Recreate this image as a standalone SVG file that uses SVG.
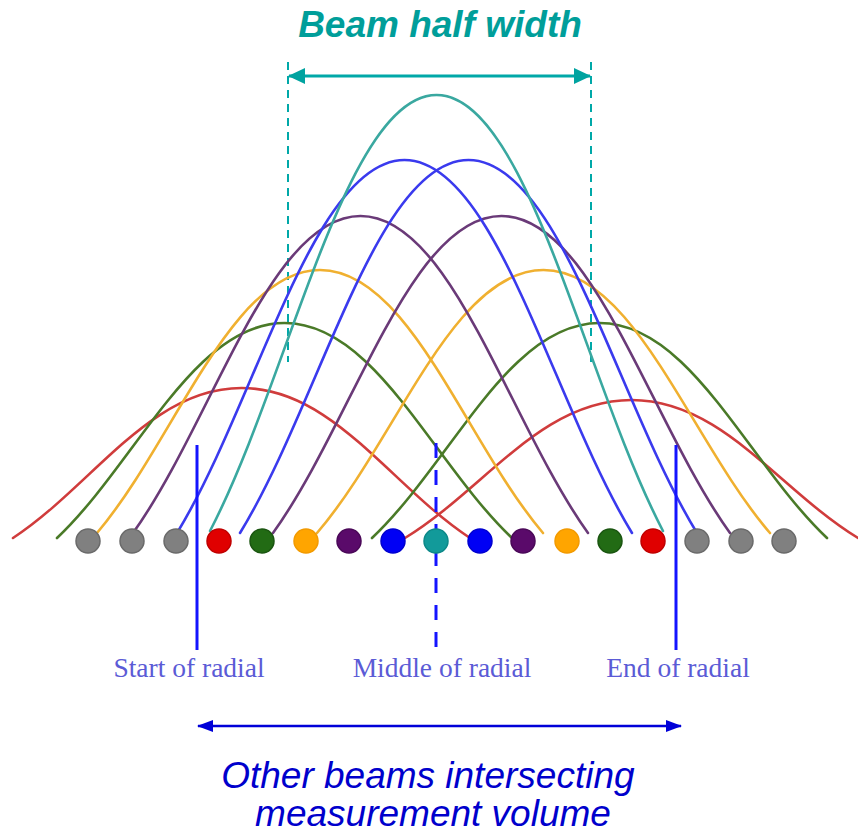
<svg xmlns="http://www.w3.org/2000/svg" width="858" height="834" viewBox="0 0 858 834">
<defs>
<style>
.arch{fill:none;stroke-width:2.6;stroke-linecap:round}
.red{stroke:#d03c3c}.grn{stroke:#4a7a28}.org{stroke:#f0b030}.pur{stroke:#6a3a78}.blu{stroke:#3a3aee}.tea{stroke:#3aa8a0}
.dot{stroke-width:1.5}
.gray{fill:#808080;stroke:#6a6a6a}
.dred{fill:#e00000;stroke:#c00000}.dgrn{fill:#226b14;stroke:#1a5510}.dorg{fill:#ffa500;stroke:#f29a00}
.dpur{fill:#5a0a6a;stroke:#4a0858}.dblu{fill:#0000f5;stroke:#0000d0}.dtea{fill:#129a9a;stroke:#0c8888}
.lbl{font-family:"Liberation Serif","Times New Roman",serif;font-size:27.5px;fill:#5b5bd6;text-anchor:middle}
.vline{stroke:#1414ff;stroke-width:3;fill:none}
</style>
<marker id="tealHead" viewBox="0 0 17 16" refX="16" refY="8" markerWidth="17" markerHeight="16" markerUnits="userSpaceOnUse" orient="auto-start-reverse">
<path d="M0,0 L17,8 L0,16 z" fill="#00a3a0"/>
</marker>
<marker id="blueHead" viewBox="0 0 16 12" refX="15" refY="6" markerWidth="16" markerHeight="12" markerUnits="userSpaceOnUse" orient="auto-start-reverse">
<path d="M0,0 L16,6 L0,12 z" fill="#0000d8"/>
</marker>
</defs>
<rect width="858" height="834" fill="#ffffff"/>

<g id="title">
<text x="440" y="37" font-family="Liberation Sans, Arial, sans-serif" font-size="37" font-weight="bold" font-style="italic" fill="#009e9a" text-anchor="middle">Beam half width</text>
</g>

<g id="beam-half-width">
<line x1="288" y1="62" x2="288" y2="362" stroke="#00a8a8" stroke-width="2" stroke-dasharray="8 6"/>
<line x1="591" y1="62" x2="591" y2="362" stroke="#00a8a8" stroke-width="2" stroke-dasharray="8 6"/>
<line x1="289" y1="76" x2="590" y2="76" stroke="#00a8a8" stroke-width="3" marker-start="url(#tealHead)" marker-end="url(#tealHead)"/>
</g>

<g id="connectors">
<path class="arch red" d="M13,538 C93,485.5 150.1,388 241.5,388 C332.9,388 390,485.5 470,538"/>
<path class="arch red" d="M405,538 C484.3,489.7 540.9,400 631.5,400 C722.1,400 778.7,489.7 858,538"/>
<path class="arch grn" d="M57,538 C136.6,462.75 193.5,323 284.5,323 C375.5,323 432.4,462.75 512,538"/>
<path class="arch grn" d="M372,538 C451.6,462.75 508.5,323 599.5,323 C690.5,323 747.4,462.75 827,538"/>
<path class="arch org" d="M97,533 C175,441 230.8,270 320,270 C409.2,270 465,441 543,533"/>
<path class="arch org" d="M317,533 C396.3,441 452.9,270 543.5,270 C634.1,270 690.7,441 770,533"/>
<path class="arch pur" d="M133,533 C212.6,422 269.5,216 360.5,216 C451.5,216 508.4,422 588,533"/>
<path class="arch pur" d="M273,533 C353,422 410.1,216 501.5,216 C592.9,216 650,422 730,533"/>
<path class="arch blu" d="M177,533 C256.6,402.5 313.5,160 404.5,160 C495.5,160 552.4,402.5 632,533"/>
<path class="arch blu" d="M240,533 C320,402.5 377.1,160 468.5,160 C559.9,160 617,402.5 697,533"/>
<path class="arch tea" d="M210,531 C289.3,378.4 345.9,95 436.5,95 C527.1,95 583.7,378.4 663,531"/>
</g>

<g id="radial-markers">
<line class="vline" x1="197" y1="445" x2="197" y2="650"/>
<line class="vline" x1="676" y1="445" x2="676" y2="650"/>
<line class="vline" x1="436" y1="443" x2="436" y2="650" stroke-dasharray="15 12"/>
</g>

<g id="dots">
<g id="dot-1"><circle class="dot gray" cx="88" cy="541" r="12"/></g>
<g id="dot-2"><circle class="dot gray" cx="132" cy="541" r="12"/></g>
<g id="dot-3"><circle class="dot gray" cx="176" cy="541" r="12"/></g>
<g id="dot-4"><circle class="dot dred" cx="219" cy="541" r="12"/></g>
<g id="dot-5"><circle class="dot dgrn" cx="262" cy="541" r="12"/></g>
<g id="dot-6"><circle class="dot dorg" cx="306" cy="541" r="12"/></g>
<g id="dot-7"><circle class="dot dpur" cx="349" cy="541" r="12"/></g>
<g id="dot-8"><circle class="dot dblu" cx="393" cy="541" r="12"/></g>
<g id="dot-9"><circle class="dot dtea" cx="436" cy="541" r="12"/></g>
<g id="dot-10"><circle class="dot dblu" cx="480" cy="541" r="12"/></g>
<g id="dot-11"><circle class="dot dpur" cx="523" cy="541" r="12"/></g>
<g id="dot-12"><circle class="dot dorg" cx="567" cy="541" r="12"/></g>
<g id="dot-13"><circle class="dot dgrn" cx="610" cy="541" r="12"/></g>
<g id="dot-14"><circle class="dot dred" cx="653" cy="541" r="12"/></g>
<g id="dot-15"><circle class="dot gray" cx="697" cy="541" r="12"/></g>
<g id="dot-16"><circle class="dot gray" cx="741" cy="541" r="12"/></g>
<g id="dot-17"><circle class="dot gray" cx="784" cy="541" r="12"/></g>
</g>

<g id="labels">
<text class="lbl" x="189" y="677">Start of radial</text>
<text class="lbl" x="442" y="677">Middle of radial</text>
<text class="lbl" x="678" y="677">End of radial</text>
</g>

<g id="measurement-volume">
<line x1="198" y1="726" x2="681" y2="726" stroke="#0000d8" stroke-width="2.5" marker-start="url(#blueHead)" marker-end="url(#blueHead)"/>
<text font-family="Liberation Sans, Arial, sans-serif" font-size="37" font-style="italic" fill="#0000cc" text-anchor="middle">
<tspan x="433" y="788">Other beams intersecting</tspan>
<tspan x="433" y="826">measurement volume</tspan>
</text>
</g>
</svg>
